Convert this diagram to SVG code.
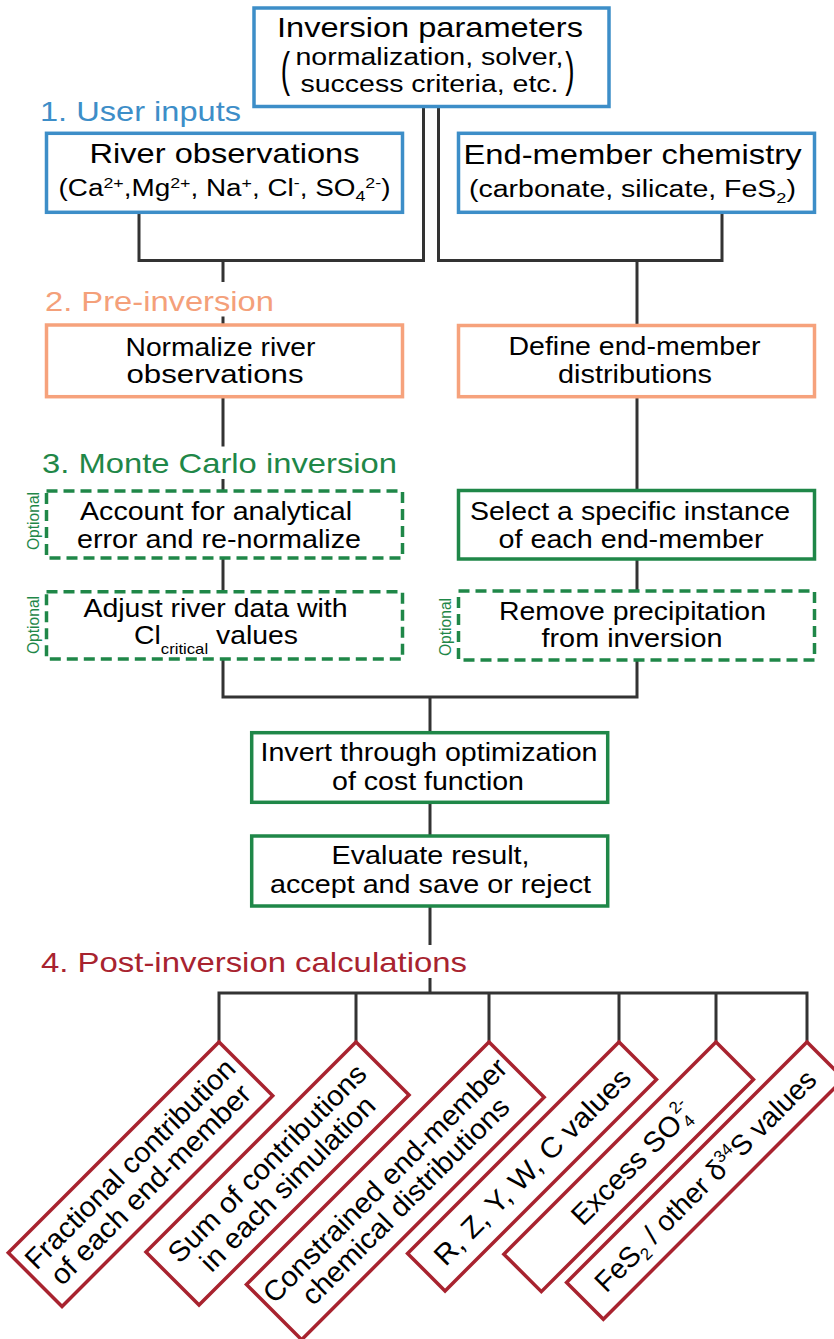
<svg xmlns="http://www.w3.org/2000/svg" width="834" height="1339" viewBox="0 0 834 1339">
<style>
text{font-family:"Liberation Sans",Arial,Helvetica,sans-serif;fill:#000}
.box{fill:#fff;stroke-width:3.5}
.blue{stroke:#3d8ec8}
.orange{stroke:#f6a27c}
.green{stroke:#1f8748}
.dash{stroke-dasharray:11 6}
.red{stroke:#a8232f}
.conn{fill:none;stroke:#333;stroke-width:3}
.t{font-size:25.5px}
.h{font-size:28px}
.s{font-size:23.5px}
.r{font-size:28.5px}
.opt{font-size:16px;fill:#1f8748}
.lb{fill:#3d8ec8}
.lo{fill:#f4a07a}
.lg{fill:#1f8748}
.lr{fill:#a8232f}
</style>
<rect x="0" y="0" width="834" height="1339" fill="#fff"/>

<g id="connectors" class="conn">
<path d="M139,212.3 V260.5 H423.5 V106.7"/>
<path d="M438.5,106.7 V260.5 H722 V212.3"/>
<path d="M223,260.5 V282 M223,316.5 V325"/>
<path d="M637,260.5 V325.5"/>
<path d="M223,396.7 V446.5 M223,479 V491"/>
<path d="M637,396.7 V490.5"/>
<path d="M223,558 V591.7"/>
<path d="M637,559 V591"/>
<path d="M223,659 V697 H637 V660"/>
<path d="M430,697 V732.7"/>
<path d="M430,802.3 V836"/>
<path d="M430,906 V945 M430,978 V993"/>
<path d="M219,1042 V993 H807 V1042 M356,993 V1042 M489,993 V1042 M619,993 V1042 M716,993 V1042"/>
</g>

<g id="section-labels">
<text class="h lb" x="40" y="121" textLength="201" lengthAdjust="spacingAndGlyphs">1. User inputs</text>
<text class="h lo" x="45" y="311" textLength="229" lengthAdjust="spacingAndGlyphs">2. Pre-inversion</text>
<text class="h lg" x="42" y="472.5" textLength="355" lengthAdjust="spacingAndGlyphs">3. Monte Carlo inversion</text>
<text class="h lr" x="41" y="972" textLength="426" lengthAdjust="spacingAndGlyphs">4. Post-inversion calculations</text>
</g>

<g id="inversion-parameters">
<rect class="box blue" x="254" y="8" width="355" height="98.5"/>
<text class="h" x="277" y="36.5" textLength="306" lengthAdjust="spacingAndGlyphs">Inversion parameters</text>
<text class="s" x="295.5" y="65" textLength="268" lengthAdjust="spacingAndGlyphs">normalization, solver,</text>
<text class="s" x="300.5" y="91.5" textLength="258" lengthAdjust="spacingAndGlyphs">success criteria, etc.</text>
<text font-size="28" text-anchor="middle" transform="matrix(1 0 0 1.75 285.5 86.4)">(</text>
<text font-size="28" text-anchor="middle" transform="matrix(1 0 0 1.75 570 86.4)">)</text>
</g>

<g id="river-observations">
<rect class="box blue" x="46.5" y="133.3" width="356" height="79"/>
<text class="h" x="89.5" y="163" textLength="270" lengthAdjust="spacingAndGlyphs">River observations</text>
<text class="s" x="58.5" y="196" textLength="332" lengthAdjust="spacingAndGlyphs">(Ca<tspan dy="-8.5" font-size="15">2+</tspan><tspan dy="8.5">,Mg</tspan><tspan dy="-8.5" font-size="15">2+</tspan><tspan dy="8.5">, Na</tspan><tspan dy="-8.5" font-size="15">+</tspan><tspan dy="8.5">, Cl</tspan><tspan dy="-8.5" font-size="15">-</tspan><tspan dy="8.5">, SO</tspan><tspan dy="5" font-size="15">4</tspan><tspan dy="-13.5" font-size="15">2-</tspan><tspan dy="8.5">)</tspan></text>
</g>

<g id="end-member-chemistry">
<rect class="box blue" x="458.5" y="133.3" width="356" height="79"/>
<text class="h" x="463.5" y="164" textLength="338" lengthAdjust="spacingAndGlyphs">End-member chemistry</text>
<text class="s" x="469" y="197.3" textLength="327" lengthAdjust="spacingAndGlyphs">(carbonate, silicate, FeS<tspan dy="6" font-size="15">2</tspan><tspan dy="-6">)</tspan></text>
</g>

<g id="normalize">
<rect class="box orange" x="46.5" y="325" width="356" height="71.7"/>
<text class="t" x="125.5" y="356" textLength="190" lengthAdjust="spacingAndGlyphs">Normalize river</text>
<text class="t" x="126.5" y="383" textLength="177" lengthAdjust="spacingAndGlyphs">observations</text>
</g>

<g id="define-distributions">
<rect class="box orange" x="458.5" y="325.5" width="356" height="71.2"/>
<text class="t" x="508.5" y="355" textLength="252" lengthAdjust="spacingAndGlyphs">Define end-member</text>
<text class="t" x="558" y="383.3" textLength="154" lengthAdjust="spacingAndGlyphs">distributions</text>
</g>

<g id="account-error">
<rect class="box green dash" x="46.5" y="491" width="356" height="67"/>
<text class="t" x="80" y="520" textLength="272" lengthAdjust="spacingAndGlyphs">Account for analytical</text>
<text class="t" x="77" y="548.3" textLength="284" lengthAdjust="spacingAndGlyphs">error and re-normalize</text>
<text class="opt" transform="translate(38.5,521) rotate(-90)" text-anchor="middle" textLength="58" lengthAdjust="spacingAndGlyphs">Optional</text>
</g>

<g id="select-instance">
<rect class="box green" x="458.5" y="490.5" width="356" height="68.5"/>
<text class="t" x="470" y="520" textLength="320" lengthAdjust="spacingAndGlyphs">Select a specific instance</text>
<text class="t" x="498.5" y="548.3" textLength="265" lengthAdjust="spacingAndGlyphs">of each end-member</text>
</g>

<g id="adjust-river">
<rect class="box green dash" x="46.5" y="591.7" width="356" height="67.3"/>
<text class="t" x="83.5" y="617" textLength="264" lengthAdjust="spacingAndGlyphs">Adjust river data with</text>
<text class="t" x="134" y="644" textLength="164" lengthAdjust="spacingAndGlyphs">Cl<tspan dy="9.5" font-size="15">critical</tspan><tspan dy="-9.5"> values</tspan></text>
<text class="opt" transform="translate(38.5,625) rotate(-90)" text-anchor="middle" textLength="58" lengthAdjust="spacingAndGlyphs">Optional</text>
</g>

<g id="remove-precipitation">
<rect class="box green dash" x="458.5" y="591" width="356" height="69"/>
<text class="t" x="499" y="620" textLength="267" lengthAdjust="spacingAndGlyphs">Remove precipitation</text>
<text class="t" x="541.5" y="646.7" textLength="181" lengthAdjust="spacingAndGlyphs">from inversion</text>
<text class="opt" transform="translate(450.5,627) rotate(-90)" text-anchor="middle" textLength="58" lengthAdjust="spacingAndGlyphs">Optional</text>
</g>

<g id="invert">
<rect class="box green" x="251.7" y="732.7" width="356" height="69.6"/>
<text class="t" x="260.5" y="761" textLength="337" lengthAdjust="spacingAndGlyphs">Invert through optimization</text>
<text class="t" x="332" y="790" textLength="192" lengthAdjust="spacingAndGlyphs">of cost function</text>
</g>

<g id="evaluate">
<rect class="box green" x="251.7" y="836" width="356" height="70"/>
<text class="t" x="331.5" y="864.3" textLength="198" lengthAdjust="spacingAndGlyphs">Evaluate result,</text>
<text class="t" x="270" y="892.7" textLength="321" lengthAdjust="spacingAndGlyphs">accept and save or reject</text>
</g>

<g id="fractional-contribution" transform="translate(219,1042) rotate(-45)">
<rect class="box red" x="-298" y="0" width="298" height="76"/>
<text class="r" x="-291" y="33" textLength="284" lengthAdjust="spacingAndGlyphs">Fractional contribution</text>
<text class="r" x="-284" y="62" textLength="270" lengthAdjust="spacingAndGlyphs">of each end-member</text>
</g>

<g id="sum-contributions" transform="translate(356,1042) rotate(-45)">
<rect class="box red" x="-297" y="0" width="297" height="75"/>
<text class="r" x="-282" y="32.5" textLength="267" lengthAdjust="spacingAndGlyphs">Sum of contributions</text>
<text class="r" x="-265.75" y="61.5" textLength="234.5" lengthAdjust="spacingAndGlyphs">in each simulation</text>
</g>

<g id="constrained-distributions" transform="translate(489,1042) rotate(-45)">
<rect class="box red" x="-343" y="0" width="343" height="78"/>
<text class="r" x="-337.5" y="34" textLength="332" lengthAdjust="spacingAndGlyphs">Constrained end-member</text>
<text class="r" x="-311.5" y="63" textLength="280" lengthAdjust="spacingAndGlyphs">chemical distributions</text>
</g>

<g id="rzywc-values" transform="translate(619,1042) rotate(-45)">
<rect class="box red" x="-299" y="0" width="299" height="53"/>
<text class="r" x="-282" y="36.5" textLength="265" lengthAdjust="spacingAndGlyphs">R, Z, Y, W, C values</text>
</g>

<g id="excess-so4" transform="translate(716,1042) rotate(-45)">
<rect class="box red" x="-300" y="0" width="300" height="53"/>
<text class="r" x="-225" y="36.5" textLength="143" lengthAdjust="spacingAndGlyphs">Excess SO</text>
<text font-size="17" x="-80" y="42.5">4</text>
<text font-size="17" x="-80" y="23">2-</text>
</g>

<g id="fes2-d34s" transform="translate(807,1042) rotate(-45)">
<rect class="box red" x="-340" y="0" width="340" height="52"/>
<text class="r" x="-320" y="36" textLength="300" lengthAdjust="spacingAndGlyphs">FeS<tspan dy="6" font-size="17">2</tspan><tspan dy="-6"> / other δ</tspan><tspan dy="-11" font-size="17">34</tspan><tspan dy="11">S values</tspan></text>
</g>
</svg>
